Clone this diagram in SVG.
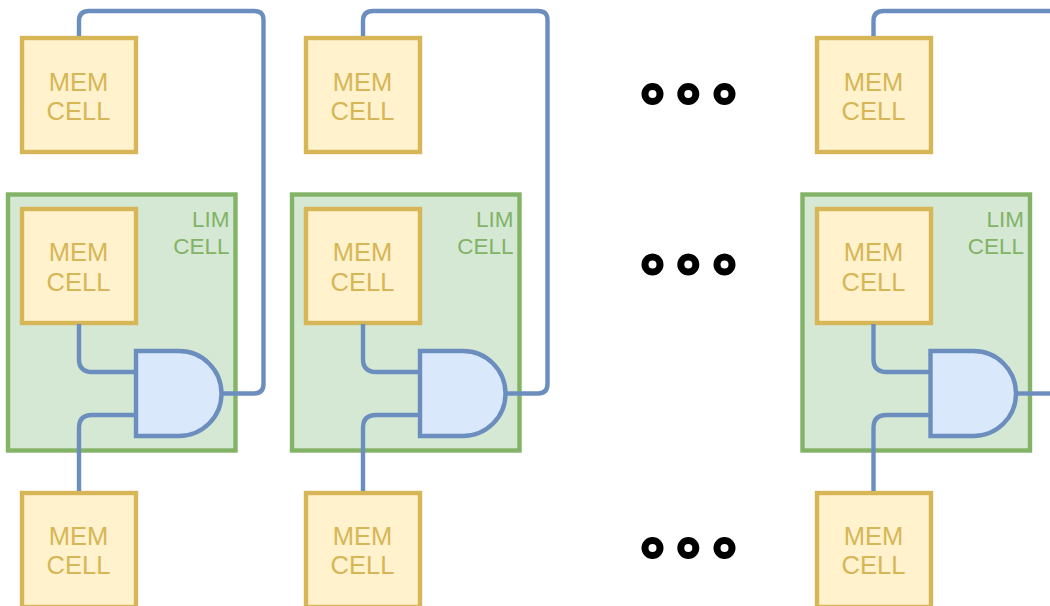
<svg xmlns="http://www.w3.org/2000/svg" width="1050" height="606" viewBox="0 0 1050 606">
<style>
.m rect{fill:#fff2cc;stroke:#d6b656;stroke-width:4.4}
.m text{fill:#d6b656;font:25.5px "Liberation Sans",Arial,sans-serif;text-anchor:middle}
.l rect{fill:#d5e8d4;stroke:#82b366;stroke-width:4.4}
.l text{fill:#82b366;font:22.5px "Liberation Sans",Arial,sans-serif;text-anchor:end}
.g path{fill:#dae8fc;stroke:#6c8ebf;stroke-width:4.4;stroke-miterlimit:10}
.c path{fill:none;stroke:#6c8ebf;stroke-width:4.4}
.d circle{fill:none;stroke:#000;stroke-width:7;r:7.5px}
</style>
<g id="lim1" class="l"><rect x="8" y="194.5" width="227.5" height="256"/><text x="229.5" y="227">LIM</text><text x="229.5" y="254">CELL</text></g>
<g id="lim2" class="l"><rect x="292" y="194.5" width="227.5" height="256"/><text x="513.5" y="227">LIM</text><text x="513.5" y="254">CELL</text></g>
<g id="lim3" class="l"><rect x="802.5" y="194.5" width="227.5" height="256"/><text x="1024" y="227">LIM</text><text x="1024" y="254">CELL</text></g>
<g id="mem1a" class="m"><rect x="22" y="38" width="114" height="114"/><text x="78.5" y="91">MEM</text><text x="78.5" y="120">CELL</text></g>
<g id="mem1b" class="m"><rect x="22" y="209" width="114" height="114"/><text x="78.5" y="261">MEM</text><text x="78.5" y="291">CELL</text></g>
<g id="mem1c" class="m"><rect x="22" y="493" width="114" height="114"/><text x="78.5" y="545">MEM</text><text x="78.5" y="574">CELL</text></g>
<g id="mem2a" class="m"><rect x="306" y="38" width="114" height="114"/><text x="362.5" y="91">MEM</text><text x="362.5" y="120">CELL</text></g>
<g id="mem2b" class="m"><rect x="306" y="209" width="114" height="114"/><text x="362.5" y="261">MEM</text><text x="362.5" y="291">CELL</text></g>
<g id="mem2c" class="m"><rect x="306" y="493" width="114" height="114"/><text x="362.5" y="545">MEM</text><text x="362.5" y="574">CELL</text></g>
<g id="mem3a" class="m"><rect x="817" y="38" width="114" height="114"/><text x="873.5" y="91">MEM</text><text x="873.5" y="120">CELL</text></g>
<g id="mem3b" class="m"><rect x="817" y="209" width="114" height="114"/><text x="873.5" y="261">MEM</text><text x="873.5" y="291">CELL</text></g>
<g id="mem3c" class="m"><rect x="817" y="493" width="114" height="114"/><text x="873.5" y="545">MEM</text><text x="873.5" y="574">CELL</text></g>
<g id="and1" class="g"><path d="M136 351h43a42.5 42.5 0 0 1 0 85h-43z"/></g>
<g id="and2" class="g"><path d="M420 351h43a42.5 42.5 0 0 1 0 85h-43z"/></g>
<g id="and3" class="g"><path d="M930.500 351h43a42.500 42.500 0 0 1 0 85h-43z"/></g>
<g id="connectors" class="c">
<path d="M79 324V359Q79 372 92 372H134"/>
<path d="M79 491V428Q79 415 92 415H134"/>
<path d="M223 393.500H254Q263.500 393.500 263.500 384V20Q263.500 11 254 11H89Q79 11 79 21V36"/>
<path d="M363 324V359Q363 372 376 372H418"/>
<path d="M363 491V428Q363 415 376 415H418"/>
<path d="M507 393.500H538Q547.500 393.500 547.500 384V20Q547.500 11 538 11H373Q363 11 363 21V36"/>
<path d="M873.500 324V359Q873.500 372 886.500 372H929"/>
<path d="M873.500 491V428Q873.500 415 886.500 415H929"/>
<path d="M1018 393.500H1050"/>
<path d="M873.500 36V21Q873.500 11 883.500 11H1050"/>
</g>
<g id="dots-top" class="d"><circle cx="652.500" cy="94"/><circle cx="688.300" cy="94"/><circle cx="724.500" cy="94"/></g>
<g id="dots-middle" class="d"><circle cx="652.500" cy="264.500"/><circle cx="688.300" cy="264.500"/><circle cx="724.500" cy="264.500"/></g>
<g id="dots-bottom" class="d"><circle cx="652.500" cy="548"/><circle cx="688.300" cy="548"/><circle cx="724.500" cy="548"/></g>
</svg>
